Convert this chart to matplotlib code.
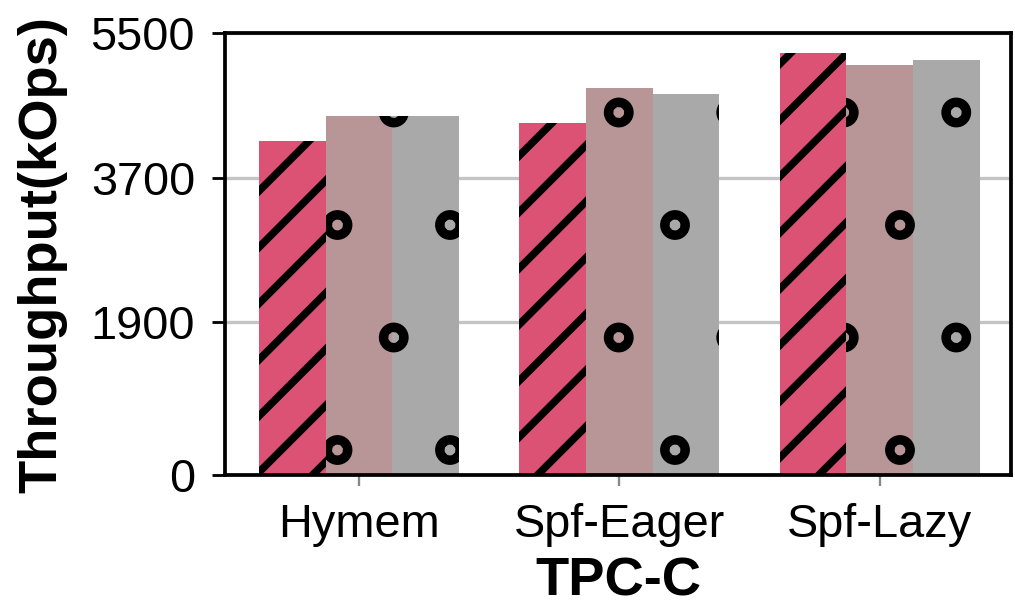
import numpy as np
import matplotlib
matplotlib.use("Agg")
import matplotlib.pyplot as plt
import matplotlib.hatch as mhatch

# data
groups = ["Hymem", "Spf-Eager", "Spf-Lazy"]
series_red = [4160, 4380, 5250]
series_mauve = [4470, 4810, 5100]
series_gray = [4470, 4740, 5165]
yticks = [0, 1900, 3700, 5500]

colors = ["#dc5275", "#b89597", "#a9a9a9"]
hatches = ["////", "o", "o"]

DPI = 675
plt.rcParams["font.family"] = ["Liberation Sans", "DejaVu Sans"]
# smaller hatch circles than matplotlib's default
mhatch.SmallCircles.size = 0.095

fig = plt.figure(figsize=(1015.2 / DPI, 607.2 / DPI), dpi=DPI)
ax = fig.add_axes([225 / 1015, 132 / 607, 786 / 1015, 442 / 607])

x = np.arange(len(groups))
width = 0.256
all_series = [series_red, series_mauve, series_gray]
hatch_lw = [0.8, 0.9, 0.9]
for i, vals in enumerate(all_series):
    plt.rcParams["hatch.linewidth"] = hatch_lw[i]
    ax.bar(x + (i - 1) * width, vals, width, color=colors[i], hatch=hatches[i],
           linewidth=0, zorder=2)

ax.set_xlim(-0.515, 2.505)
ax.set_ylim(0, 5500)
ax.set_yticks(yticks)
ax.set_yticklabels([str(t) for t in yticks])
ax.set_xticks(x)
ax.set_xticklabels(groups)

ax.yaxis.grid(True, color="#c4c4c4", linewidth=0.35, zorder=0)
ax.set_axisbelow(True)

for s in ax.spines.values():
    s.set_linewidth(0.4)
    s.set_color("black")

ax.tick_params(axis="y", direction="out", length=1.4, width=0.3, pad=1.8,
               labelsize=5.0, colors="black")
ax.tick_params(axis="x", direction="out", length=1.2, width=0.25, pad=1.8,
               labelsize=5.0, color="#888888")

ax.set_ylabel("Throughput(kOps)", fontsize=5.8, fontweight="bold")
ax.yaxis.set_label_coords(-0.2, 0.5)
ax.set_xlabel("TPC-C", fontsize=5.8, fontweight="bold")
ax.xaxis.set_label_coords(0.5, -0.185)

fig.savefig("out.png", dpi=DPI)
